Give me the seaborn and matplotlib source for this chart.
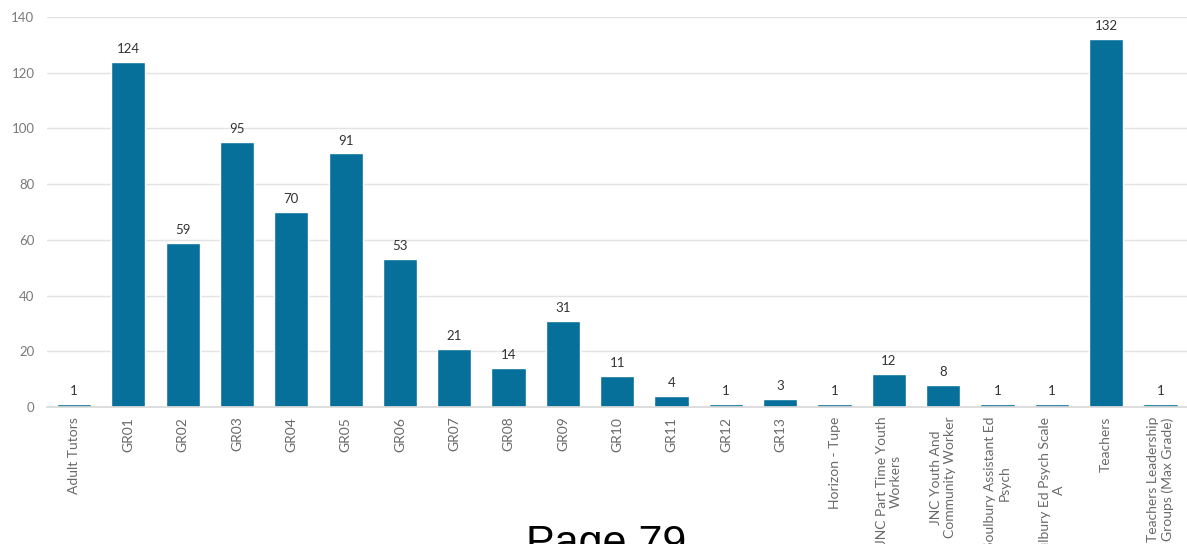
import matplotlib
matplotlib.use("Agg")
import matplotlib.pyplot as plt
import seaborn as sns
import pandas as pd

categories = [
    "Adult Tutors", "GR01", "GR02", "GR03", "GR04", "GR05", "GR06", "GR07",
    "GR08", "GR09", "GR10", "GR11", "GR12", "GR13", "Horizon - Tupe",
    "JNC Part Time Youth\nWorkers", "JNC Youth And\nCommunity Worker",
    "Soulbury Assistant Ed\nPsych", "Soulbury Ed Psych Scale\nA", "Teachers",
    "Teachers Leadership\nGroups (Max Grade)",
]
headcount = [1, 124, 59, 95, 70, 91, 53, 21, 14, 31, 11, 4, 1, 3, 1, 12, 8, 1, 1, 132, 1]
y_ticks = [0, 20, 40, 60, 80, 100, 120, 140]

sns.set_theme(style="white")
plt.rcParams["font.family"] = ["Lato", "DejaVu Sans"]

df = pd.DataFrame({"category": categories, "count": headcount})

fig = plt.figure(figsize=(11.87, 5.44), dpi=100)
ax = fig.add_axes([0.0395, 0.2518, 0.961, 0.717])

sns.barplot(data=df, x="category", y="count", color="#06709a", width=0.63,
            saturation=1, ax=ax)

ax.set_ylim(0, 140)
ax.set_xlim(-0.5, len(categories) - 0.5)
ax.set_yticks(y_ticks)
ax.yaxis.grid(True, color="#e3e3e3", linewidth=1.0)
ax.set_axisbelow(True)
for side in ["top", "right", "left"]:
    ax.spines[side].set_visible(False)
ax.spines["bottom"].set_color("#d9d9d9")
ax.set_xlabel("")
ax.set_ylabel("")

ax.tick_params(axis="y", length=0, pad=9, labelsize=9.5, labelcolor="#7a7a7a")
ax.tick_params(axis="x", length=0, pad=7, labelsize=10, labelcolor="#6a6a6a")
for lbl in ax.get_xticklabels():
    lbl.set_rotation(90)
    lbl.set_multialignment("center")

for container in ax.containers:
    ax.bar_label(container, labels=[str(v) for v in headcount], padding=5,
                 fontsize=9.5, color="#333333")

fig.text(0.511, 0.0375, "Page 79", ha="center", va="top", fontsize=31,
         color="black", family=["Liberation Sans", "DejaVu Sans"])

fig.savefig("out.png", dpi=100)
